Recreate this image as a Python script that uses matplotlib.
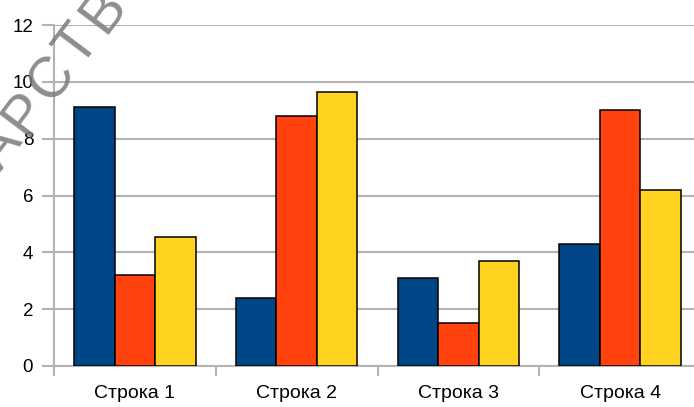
import matplotlib
matplotlib.use("Agg")
import matplotlib.pyplot as plt
import numpy as np

categories = ["Строка 1", "Строка 2", "Строка 3", "Строка 4"]
series1 = [9.1, 2.4, 3.1, 4.3]
series2 = [3.2, 8.8, 1.5, 9.02]
series3 = [4.54, 9.65, 3.7, 6.2]
colors = ["#004586", "#ff420e", "#ffd320"]
yticks = [0, 2, 4, 6, 8, 10, 12]

plt.rcParams['font.family'] = ['Liberation Sans', 'DejaVu Sans']

W, H = 694, 407
fig = plt.figure(figsize=(W / 100, H / 100), dpi=100)
left, right, bottom, top = 54, 701, 366, 25
ax = fig.add_axes([left / W, 1 - bottom / H, (right - left) / W, (bottom - top) / H])

x = np.arange(len(categories)) + 0.5
w = 0.25
for k, vals in enumerate([series1, series2, series3]):
    ax.bar(x + (k - 1) * w, vals, width=w, color=colors[k], edgecolor="black",
           linewidth=1.1, zorder=3)

ax.set_xlim(0, len(categories))
ax.set_ylim(0, 12)
ax.set_yticks(yticks)
ax.set_yticklabels([str(v) for v in yticks], fontsize=13.5)
ax.set_xticks(np.arange(len(categories) + 1), minor=False)
ax.set_xticklabels([""] * (len(categories) + 1))
ax.set_xticks(x, minor=True)
ax.set_xticklabels(categories, minor=True, fontsize=14)
ax.tick_params(axis='x', which='minor', length=0, pad=14)
ax.tick_params(axis='x', which='major', length=7, width=1.5, color="#b3b3b3", direction='out')
ax.tick_params(axis='y', length=9, width=1.5, color="#b3b3b3", pad=6, direction='out')
ax.yaxis.grid(True, color="#b3b3b3", linewidth=1.5, zorder=0)
ax.set_axisbelow(True)
for s in ["top", "right"]:
    ax.spines[s].set_visible(False)
for s in ["left", "bottom"]:
    ax.spines[s].set_color("#b3b3b3")
    ax.spines[s].set_linewidth(1.5)

# watermark fragment
wm_letters = ["А", "Р", "С", "Т", "В"]
cx, cy = 52, 79
step = 43
ang = np.deg2rad(53)
for i, ch in enumerate(wm_letters):
    px = cx + (i - 2) * step * np.cos(ang)
    py = cy - (i - 2) * step * np.sin(ang)
    fig.text(px / W, 1 - py / H, ch, fontsize=41, color="#7a7a7a", alpha=0.85,
             rotation=53, ha='center', va='center', rotation_mode='anchor',
             zorder=10)

fig.savefig("out.png", dpi=100)
